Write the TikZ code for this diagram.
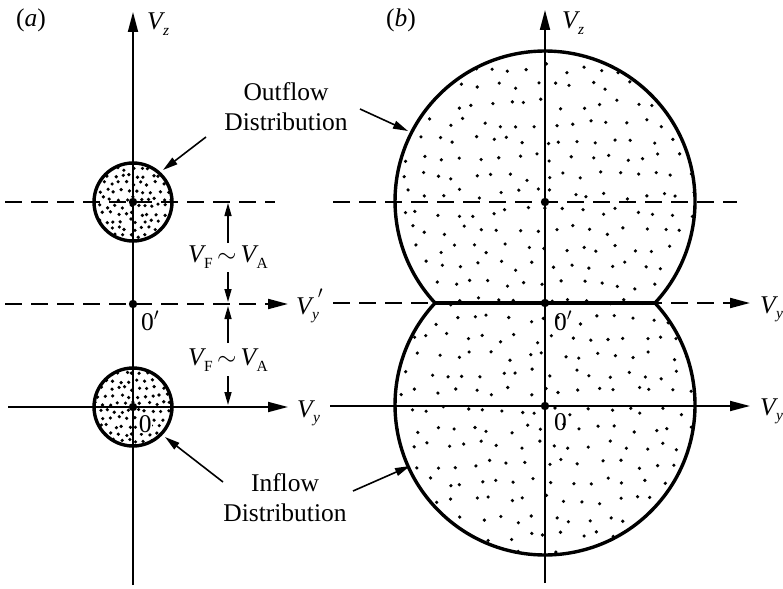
\documentclass[tikz,border=0pt]{standalone}
\usepackage{fontspec}
\setmainfont{Liberation Serif}
\usetikzlibrary{arrows.meta}
\newcommand\Vs[1]{\textit{V}\kern-0.08em\raisebox{-0.5ex}{\fontsize{15.5}{15.5}\selectfont #1}}
\begin{document}
\begin{tikzpicture}[x=1pt,y=1pt,
  axis/.style={line width=1.8pt,-{Triangle[length=20pt,width=10pt]}},
  dashline/.style={line width=2pt,dash pattern=on 17pt off 9pt},
  rim/.style={line width=3.4pt},
  dimarrow/.style={line width=1.5pt,-{Triangle[length=13pt,width=7pt]}},
  pointer/.style={line width=1.6pt,-{Triangle[length=15pt,width=8pt]}},
  lbl/.style={font=\fontsize{25.5}{30}\selectfont, inner sep=0pt},
  ]
\useasboundingbox (0,0) rectangle (783,-588);
\pgfmathsetseed{4242}

% ---------- coordinates ----------
\coordinate (aBot) at (133,-585);
\coordinate (aTop) at (133,-12);
\coordinate (bBot) at (545,-583);
\coordinate (bTop) at (545,-10);
\coordinate (aUp) at (133,-202);
\coordinate (aMid) at (133,-304);
\coordinate (aLow) at (133,-407);
\coordinate (bUp) at (545,-202);
\coordinate (bMid) at (545,-303);
\coordinate (bLow) at (545,-406);
\coordinate (jL) at (435,-303);
\coordinate (jR) at (655,-303);

% ---------- dots, small circles ----------
\begin{scope}
  \clip (aUp) circle[radius=38];
  \foreach \i in {0,...,11} \foreach \j in {0,...,11} {
    \fill ({92+\i*7.5+mod(\j,2)*3.7+rand*2},{-161-\j*7.5+rand*2}) circle[radius=1.8];
  }
\end{scope}
\begin{scope}
  \clip (aLow) circle[radius=38];
  \foreach \i in {0,...,11} \foreach \j in {0,...,11} {
    \fill ({92+\i*7.5+mod(\j,2)*3.7+rand*2},{-366-\j*7.5+rand*2}) circle[radius=1.8];
  }
\end{scope}

% ---------- dots, big shape ----------
\begin{scope}
  \clip (jR) arc[start angle=-42.84,end angle=222.84,radius=150]
        arc[start angle=137.16,end angle=402.84,radius=150] -- cycle;
  \foreach \i in {0,...,17} \foreach \j in {0,...,28} {
    \fill ({392+\i*18+mod(\j,2)*9+rand*5},{-50-\j*18+rand*5}) circle[radius=1.8];
  }
\end{scope}

% ---------- axes ----------
\draw[axis] (aBot) -- (aTop);
\draw[axis] (bBot) -- (bTop);

\coordinate (aL1) at (5,-202);   \coordinate (aR1) at (275,-202);
\coordinate (aL2) at (5,-304);   \coordinate (aR2) at (288,-304);
\coordinate (aL3) at (8,-407);   \coordinate (aR3) at (288,-407);
\coordinate (bL1) at (333,-202); \coordinate (bR1) at (737,-202);
\coordinate (bL2) at (333,-303); \coordinate (bR2) at (750,-303);
\coordinate (bL3) at (330,-406); \coordinate (bR3) at (750,-406);

\draw[dashline] (aL1) -- (aR1);
\draw[dashline,-{Triangle[length=20pt,width=10pt]}] (aL2) -- (aR2);
\draw[axis] (aL3) -- (aR3);
\draw[dashline] (bL1) -- (bR1);
\draw[dashline,-{Triangle[length=20pt,width=10pt]}] (bL2) -- (bR2);
\draw[axis] (bL3) -- (bR3);

% ---------- rims ----------
\draw[rim] (aUp) circle[radius=39];
\draw[rim] (aLow) circle[radius=39];
\draw[rim,line join=miter] (jR) arc[start angle=-42.84,end angle=222.84,radius=150]
        arc[start angle=137.16,end angle=402.84,radius=150] -- cycle;
\draw[rim] (jL) -- (jR);

% ---------- centre dots ----------
\foreach \c in {aUp,aMid,aLow,bUp,bMid,bLow} \fill (\c) circle[radius=4.2];

% ---------- V_F ~ V_A ----------
\node[lbl] (vf1) at (228,-257) {\Vs{F}\,$\sim$\,\Vs{A}};
\node[lbl] (vf2) at (228,-360) {\Vs{F}\,$\sim$\,\Vs{A}};
\coordinate (d1a) at (228,-243); \coordinate (d1b) at (228,-203);
\coordinate (d1c) at (228,-272); \coordinate (d1d) at (228,-302);
\coordinate (d2a) at (228,-343); \coordinate (d2b) at (228,-306);
\coordinate (d2c) at (228,-376); \coordinate (d2d) at (228,-405);
\draw[dimarrow] (d1a) -- (d1b);
\draw[dimarrow] (d1c) -- (d1d);
\draw[dimarrow] (d2a) -- (d2b);
\draw[dimarrow] (d2c) -- (d2d);

% ---------- labels ----------
\node[lbl,anchor=base] (la) at (31,-27) {(\textit{a})};
\node[lbl,anchor=base] (lb) at (401,-27) {(\textit{b})};
\node[lbl,anchor=base west] (vza) at (147,-30) {\Vs{\textit{z}}};
\node[lbl,anchor=base west] (vzb) at (562,-29) {\Vs{\textit{z}}};
\node[lbl,anchor=base west] (vyp) at (296,-314) {\textit{V}\kern-0.08em\raisebox{-0.5ex}{\fontsize{15.5}{15.5}\selectfont\textit{y}}\kern-0.05em\raisebox{0.55ex}{$'$}};
\node[lbl,anchor=base west] (vya) at (297,-417) {\Vs{\textit{y}}};
\node[lbl,anchor=base west] (vyb1) at (760,-313) {\Vs{\textit{y}}};
\node[lbl,anchor=base west] (vyb2) at (760,-415) {\Vs{\textit{y}}};
\node[lbl,anchor=base west] (oa1) at (141,-330) {0$'$};
\node[lbl,anchor=base west,fill=white,inner sep=0.6pt] (oa0) at (138,-432) {0};
\node[lbl,anchor=base west] (ob1) at (554,-330) {0$'$};
\node[lbl,anchor=base west] (ob0) at (554,-430) {0};

% ---------- distribution labels and pointers ----------
\node[lbl,align=center] (outf) at (286,-107) {Outflow\\Distribution};
\node[lbl,align=center] (inf) at (285,-498) {Inflow\\Distribution};
\coordinate (o1s) at (206,-137); \coordinate (o1e) at (163,-170);
\coordinate (o2s) at (360,-109); \coordinate (o2e) at (408,-131);
\coordinate (i1s) at (223,-482); \coordinate (i1e) at (165,-437);
\coordinate (i2s) at (353,-491); \coordinate (i2e) at (410,-466);
\draw[pointer] (o1s) -- (o1e);
\draw[pointer] (o2s) -- (o2e);
\draw[pointer] (i1s) -- (i1e);
\draw[pointer] (i2s) -- (i2e);
\end{tikzpicture}
\end{document}
